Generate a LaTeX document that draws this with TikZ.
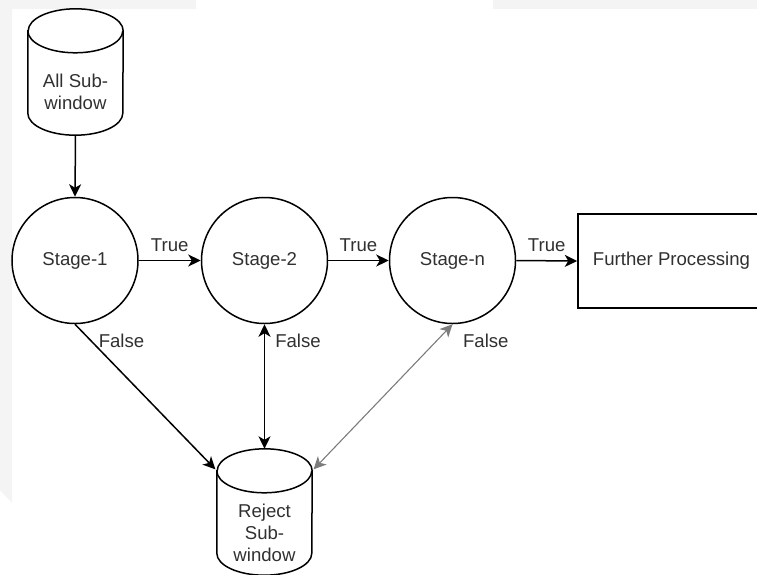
\documentclass[tikz,border=0pt]{standalone}
\usepackage{fontspec}
\setmainfont{Liberation Sans}
\usetikzlibrary{arrows.meta}
\definecolor{bgstrip}{HTML}{F4F4F4}
\definecolor{ink}{HTML}{303030}
\definecolor{softline}{HTML}{7C7C7C}
\begin{document}
\begin{tikzpicture}[x=1pt,y=1pt,
  >={Stealth[length=12.5pt,width=12pt,inset=3.5pt]},
  line/.style={line width=1.5pt, draw=black},
  txt/.style={font=\fontsize{18.6}{22}\selectfont, text=ink, align=center, inner sep=0pt},
  lbl/.style={txt},
  stage/.style={circle, line, minimum size=126pt, inner sep=0pt, txt},
  procbox/.style={rectangle, line, minimum width=187pt, minimum height=94pt, inner sep=0pt, txt},
  cylbox/.style={rectangle, minimum width=95pt, minimum height=126pt, inner sep=0pt},
]
\useasboundingbox (0,0) rectangle (757,-574);
\clip (0,0) rectangle (757,-574);

% light grey margins
\fill[bgstrip] (0,0) -- (196,0) -- (196,-9) -- (12,-9) -- (12,-503) -- (0,-490) -- cycle;
\fill[bgstrip] (493,0) -- (757,0) -- (757,-9) -- (493,-9) -- cycle;

% stages and the final box
\node[stage] (s1) at (75,-260.5) {Stage-1};
\node[stage] (s2) at (264.5,-260.5) {Stage-2};
\node[stage] (sn) at (452.5,-260.5) {Stage-n};
\node[procbox] (fp) at (671.5,-261) {Further Processing};

% cylinders (data stores)
\node[cylbox] (all) at (75.5,-72) {};
\node[cylbox] (rej) at (264.5,-512) {};
\foreach \n in {all,rej}{
  \draw[line] ([yshift=-22pt]\n.north west) -- ([yshift=22pt]\n.south west)
    arc[start angle=180,end angle=360,x radius=47.5pt,y radius=22pt]
    -- ([yshift=-22pt]\n.north east)
    arc[start angle=0,end angle=180,x radius=47.5pt,y radius=22pt] -- cycle;
  \draw[line] ([yshift=-22pt]\n.north west)
    arc[start angle=180,end angle=360,x radius=47.5pt,y radius=22pt];
}
\node[txt] (allT) at ([yshift=-20pt]all.center) {All Sub-\\window};
\node[txt] (rejT) at ([yshift=-20.5pt]rej.center) {Reject\\Sub-\\window};

\coordinate (rejW) at ([yshift=-22pt]rej.north west);
\coordinate (rejE) at ([yshift=-22pt]rej.north east);

% connectors
\draw[line, ->] (all.south) -- (s1.north);
\draw[line, ->] (s1.east) -- node[lbl, above=8pt] (t1) {True} (s2.west);
\draw[line, ->] (s2.east) -- node[lbl, above=8pt] (t2) {True} (sn.west);
\draw[line, ->] (sn.east) -- node[lbl, above=8pt] (t3) {True} (fp.west);

\draw[line, ->, shorten >=2pt] (s1.south) --
  node[lbl, at start, anchor=west, xshift=23pt, yshift=-17pt] (f1) {False} (rejW);
\draw[line, <->] (s2.south) --
  node[lbl, at start, anchor=west, xshift=10pt, yshift=-17pt] (f2) {False} (rej.north);
\draw[line, draw=softline, line width=1.1pt, <->, shorten >=2pt] (sn.south) --
  node[lbl, at start, anchor=west, xshift=10pt, yshift=-17pt] (f3) {False} (rejE);
\end{tikzpicture}
\end{document}
